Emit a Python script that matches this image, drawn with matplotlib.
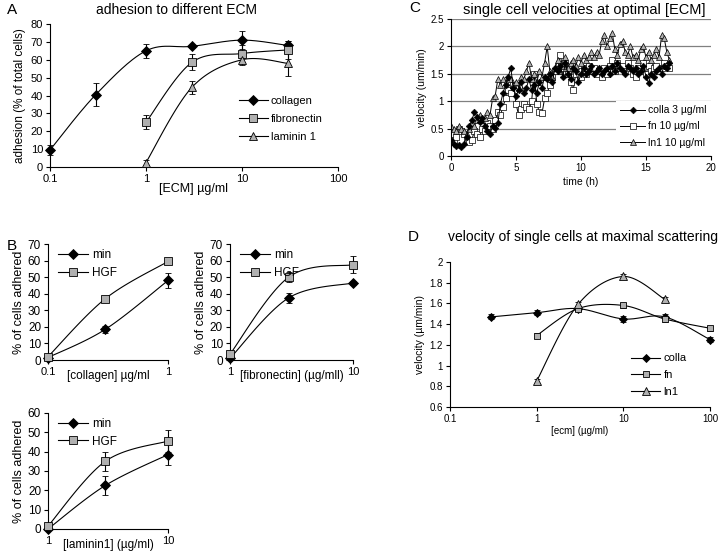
import numpy as np
import matplotlib
matplotlib.use("Agg")
import matplotlib.pyplot as plt
from matplotlib.ticker import FixedLocator, FixedFormatter, NullLocator, FormatStrFormatter

plt.rcParams['font.family'] = ['Liberation Sans', 'DejaVu Sans']
plt.rcParams['font.size'] = 7.5

GRAY = '#b0b0b0'

# ---- panel A: adhesion to different ECM ----
a_coll_x = [0.1, 0.3, 1, 3, 10, 30]
a_coll_y = [9.5, 40.5, 65, 67.5, 71, 68]
a_coll_e = [3, 6.5, 4, 1, 5, 2.5]
a_fn_x = [1, 3, 10, 30]
a_fn_y = [25, 58.5, 63.5, 65.5]
a_fn_e = [4, 4.5, 4.5, 5]
a_ln_x = [1, 3, 10, 30]
a_ln_y = [2.5, 44.5, 60, 58]
a_ln_e = [1.5, 3.5, 3, 7]

# ---- panel B: min vs HGF on each ECM ----
b_coll_x = [0.1, 0.3, 1]
b_coll_min = [1.5, 18.5, 48]
b_coll_min_e = [1, 2, 4.5]
b_coll_hgf = [2, 37, 59.5]
b_coll_hgf_e = [1, 1.5, 1.5]

b_fn_x = [1, 3, 10]
b_fn_min = [1, 37.5, 46.5]
b_fn_min_e = [1, 3, 1]
b_fn_hgf = [3.5, 50, 57.5]
b_fn_hgf_e = [2, 3, 5]

b_ln_x = [1, 3, 10]
b_ln_min = [0, 22.5, 38.5]
b_ln_min_e = [0.5, 5, 5.5]
b_ln_hgf = [1.5, 35, 45.5]
b_ln_hgf_e = [1, 5, 5.5]

# ---- panel C: velocities over time (every 0.2 h) ----
c_step = 0.2
c_colla = [0.30, 0.22, 0.18, 0.20, 0.17, 0.22,
           0.35, 0.55, 0.65, 0.80, 0.72,
           0.62, 0.70, 0.55, 0.45, 0.40,
           0.55, 0.52, 0.60, 0.95, 1.15,
           1.30, 1.45, 1.60, 1.25, 1.10,
           1.20, 1.35, 1.15, 1.25, 1.40,
           1.20, 1.30, 1.15, 1.35, 1.25,
           1.45, 1.40, 1.50, 1.35, 1.60,
           1.55, 1.65, 1.45, 1.70, 1.50,
           1.40, 1.60, 1.55, 1.35, 1.50,
           1.60, 1.50, 1.55, 1.65, 1.50,
           1.55, 1.60, 1.50, 1.55, 1.60,
           1.50, 1.65, 1.55, 1.70, 1.60,
           1.55, 1.50, 1.65, 1.60, 1.55,
           1.60, 1.50, 1.55, 1.65, 1.45,
           1.33, 1.50, 1.45, 1.55, 1.60,
           1.50, 1.65, 1.60, 1.70]
c_fn = [0.30, 0.25, 0.35, 0.50, 0.45, 0.40,
        0.30, 0.25, 0.30, 0.45, 0.40,
        0.35, 0.50, 0.45, 0.60, 0.55,
        0.50, 0.65, 0.80, 0.75, 0.90,
        1.05, 1.20, 1.15, 1.30, 0.95,
        0.75, 0.85, 0.95, 0.90, 0.85,
        1.00, 1.50, 0.95, 0.80, 0.78,
        1.05, 1.15, 1.30, 1.45, 1.55,
        1.65, 1.85, 1.60, 1.70, 1.50,
        1.35, 1.20, 1.50, 1.55, 1.45,
        1.60, 1.50, 1.65, 1.55, 1.60,
        1.50, 1.55, 1.45, 1.60, 1.50,
        1.65, 1.75, 1.55, 1.70, 1.60,
        1.65, 1.55, 1.70, 1.60, 1.50,
        1.45, 1.60, 1.55, 1.70, 1.50,
        1.65, 1.55, 1.60, 1.65, 1.55,
        1.60, 1.70, 1.65, 1.60]
c_ln1 = [0.55, 0.50, 0.45, 0.55, 0.50, 0.45,
         0.40, 0.50, 0.60, 0.55, 0.65,
         0.75, 0.65, 0.70, 0.80, 0.75,
         1.05, 1.10, 1.40, 1.30, 1.40,
         1.35, 1.45, 1.40, 1.30, 1.35,
         1.25, 1.45, 1.40, 1.55, 1.70,
         1.40, 1.50, 1.35, 1.55, 1.45,
         1.70, 2.00, 1.55, 1.45, 1.60,
         1.75, 1.55, 1.65, 1.80, 1.60,
         1.70, 1.75, 1.65, 1.80, 1.70,
         1.85, 1.75, 1.80, 1.90, 1.80,
         1.90, 1.85, 2.10, 2.20, 2.00,
         2.15, 2.25, 1.95, 1.85, 2.05,
         2.10, 1.90, 1.85, 2.00, 1.80,
         1.85, 1.75, 1.95, 2.00, 1.80,
         1.90, 1.75, 1.85, 1.95, 1.80,
         2.20, 2.15, 1.90, 1.75]

# ---- panel D: velocity at maximal scattering ----
d_colla_x = [0.3, 1, 3, 10, 30, 100]
d_colla_y = [1.47, 1.51, 1.55, 1.45, 1.47, 1.25]
d_fn_x = [1, 3, 10, 30, 100]
d_fn_y = [1.29, 1.55, 1.58, 1.45, 1.36]
d_ln_x = [1, 3, 10, 30]
d_ln_y = [0.85, 1.59, 1.86, 1.64]
d_err = 0.025


def smooth(x, y, n=30):
    # Excel-like smoothed line (Catmull-Rom as cubic Bezier), x in log space
    lx = np.log10(np.asarray(x, float))
    y = np.asarray(y, float)
    px = np.concatenate([[lx[0]], lx, [lx[-1]]])
    py = np.concatenate([[y[0]], y, [y[-1]]])
    t = np.linspace(0, 1, n)[:, None]
    xs, ys = [], []
    for i in range(1, len(px) - 2):
        p0 = np.array([px[i - 1], py[i - 1]])
        p1 = np.array([px[i], py[i]])
        p2 = np.array([px[i + 1], py[i + 1]])
        p3 = np.array([px[i + 2], py[i + 2]])
        c1 = p1 + (p2 - p0) / 6
        c2 = p2 - (p3 - p1) / 6
        b = ((1 - t) ** 3) * p1 + 3 * ((1 - t) ** 2) * t * c1 + 3 * (1 - t) * t ** 2 * c2 + t ** 3 * p2
        xs.append(b[:, 0])
        ys.append(b[:, 1])
    return 10 ** np.concatenate(xs), np.concatenate(ys)


def excel_axes(ax):
    ax.spines['top'].set_visible(False)
    ax.spines['right'].set_visible(False)
    ax.tick_params(direction='out', length=3, width=0.8, pad=2)
    ax.xaxis.set_minor_locator(NullLocator())


def series(ax, x, y, e, marker, mfc, ms, label=None):
    xs, ys = smooth(x, y)
    ax.plot(xs, ys, color='k', lw=0.8, zorder=2, clip_on=False)
    eb = ax.errorbar(x, y, yerr=e, fmt=marker, color='k', mfc=mfc, mec='k', ms=ms,
                     mew=0.6, elinewidth=0.8, capsize=2.5, capthick=0.8, zorder=3)
    for art in eb.get_children():
        art.set_clip_on(False)
    if label:
        ax.plot([], [], '-', color='k', lw=0.8, marker=marker, mfc=mfc, mec='k',
                ms=ms, mew=0.6, label=label)


def log_ticks(ax, vals, labels):
    ax.set_xscale('log')
    ax.set_xlim(vals[0], vals[-1])
    ax.xaxis.set_major_locator(FixedLocator(vals))
    ax.xaxis.set_major_formatter(FixedFormatter(labels))
    ax.xaxis.set_minor_locator(NullLocator())


fig = plt.figure(figsize=(7.2, 5.56), dpi=100)

# A
axA = fig.add_axes([0.0694, 0.6996, 0.4, 0.2572])
excel_axes(axA)
series(axA, a_coll_x, a_coll_y, a_coll_e, 'D', 'k', 5.5, 'collagen')
series(axA, a_fn_x, a_fn_y, a_fn_e, 's', GRAY, 5.5, 'fibronectin')
series(axA, a_ln_x, a_ln_y, a_ln_e, '^', GRAY, 6, 'laminin 1')
log_ticks(axA, [0.1, 1, 10, 100], ['0.1', '1', '10', '100'])
axA.set_ylim(0, 80)
axA.set_yticks(range(0, 81, 10))
axA.tick_params(labelsize=8)
axA.set_ylabel('adhesion (% of total cells)', fontsize=8.5, labelpad=3)
axA.set_xlabel('[ECM] µg/ml', fontsize=9, labelpad=-1)
axA.legend(loc='upper left', bbox_to_anchor=(0.64, 0.53), frameon=False, fontsize=8,
           handlelength=2.6, handletextpad=0.3, labelspacing=0.75, borderaxespad=0)
fig.text(0.245, 0.982, 'adhesion to different ECM', fontsize=10, ha='center', va='center')
fig.text(0.01, 0.982, 'A', fontsize=11, va='center')

# B panels
def b_panel(rect, x, mn, mne, hg, hge, xl, ticks, labels, ymax):
    ax = fig.add_axes(rect)
    excel_axes(ax)
    series(ax, x, mn, mne, 'D', 'k', 5, 'min')
    series(ax, x, hg, hge, 's', GRAY, 5.5, 'HGF')
    log_ticks(ax, ticks, labels)
    ax.set_ylim(0, ymax)
    ax.set_yticks(range(0, ymax + 1, 10))
    ax.tick_params(labelsize=8.5)
    ax.tick_params(axis='x', labelsize=8)
    ax.set_ylabel('% of cells adhered', fontsize=9, labelpad=2)
    ax.set_xlabel(xl, fontsize=8.5)
    ax.xaxis.set_label_coords(0.5, -0.09)
    ax.legend(loc='upper left', bbox_to_anchor=(0.04, 1.0), frameon=False, fontsize=8.5,
              handlelength=2.6, handletextpad=0.3, labelspacing=0.5, borderaxespad=0)
    return ax

b_panel([0.0667, 0.3525, 0.1667, 0.2086], b_coll_x, b_coll_min, b_coll_min_e,
        b_coll_hgf, b_coll_hgf_e, '[collagen] µg/ml', [0.1, 1], ['0.1', '1'], 70)
b_panel([0.3194, 0.3525, 0.1708, 0.2086], b_fn_x, b_fn_min, b_fn_min_e,
        b_fn_hgf, b_fn_hgf_e, '[fibronectin] (µg/mll)', [1, 10], ['1', '10'], 70)
b_panel([0.0667, 0.0486, 0.1667, 0.2086], b_ln_x, b_ln_min, b_ln_min_e,
        b_ln_hgf, b_ln_hgf_e, '[laminin1] (µg/ml)', [1, 10], ['1', '10'], 60)
fig.text(0.01, 0.558, 'B', fontsize=11, va='center')

# C
axC = fig.add_axes([0.6264, 0.7194, 0.3611, 0.2464])
excel_axes(axC)
t = np.arange(len(c_colla)) * c_step
axC.plot(t, c_colla, '-', color='k', lw=0.7, marker='D', ms=3.4, mfc='k', mec='k',
         mew=0.4, label='colla 3 µg/ml', zorder=3)
axC.plot(t, c_fn, '-', color='k', lw=0.7, marker='s', ms=4.0, mfc='white', mec='k',
         mew=0.5, label='fn 10 µg/ml', zorder=2)
axC.plot(t, c_ln1, '-', color='k', lw=0.7, marker='^', ms=4.5, mfc=GRAY, mec='k',
         mew=0.5, label='ln1 10 µg/ml', zorder=2.5)
axC.set_xlim(0, 20)
axC.set_ylim(0, 2.5)
axC.set_xticks([0, 5, 10, 15, 20])
axC.set_yticks([0, 0.5, 1, 1.5, 2, 2.5])
axC.yaxis.set_major_formatter(FormatStrFormatter('%g'))
axC.yaxis.grid(True, color='#808080', lw=0.9)
axC.set_axisbelow(True)
axC.tick_params(labelsize=7)
axC.set_xlabel('time (h)', fontsize=7.5, labelpad=3)
axC.set_ylabel('velocity (um/min)', fontsize=7.5, labelpad=3)
leg = axC.legend(loc='lower right', bbox_to_anchor=(1.0, 0.03), fontsize=7.5, frameon=True,
                 handlelength=2.4, handletextpad=0.3, labelspacing=0.6, borderaxespad=0,
                 fancybox=False, framealpha=1)
leg.get_frame().set_edgecolor('white')
leg.get_frame().set_linewidth(0)
fig.text(0.812, 0.982, 'single cell velocities at optimal [ECM]', fontsize=10.5, ha='center', va='center')
fig.text(0.568, 0.985, 'C', fontsize=11, va='center')

# D
axD = fig.add_axes([0.625, 0.268, 0.3611, 0.2608])
excel_axes(axD)
series(axD, d_colla_x, d_colla_y, [d_err] * len(d_colla_x), 'D', 'k', 4.5, 'colla')
series(axD, d_fn_x, d_fn_y, [d_err] * len(d_fn_x), 's', GRAY, 5, 'fn')
series(axD, d_ln_x, d_ln_y, [d_err] * len(d_ln_x), '^', GRAY, 5.5, 'ln1')
log_ticks(axD, [0.1, 1, 10, 100], ['0.1', '1', '10', '100'])
axD.set_ylim(0.6, 2)
axD.set_yticks([0.6, 0.8, 1, 1.2, 1.4, 1.6, 1.8, 2])
axD.yaxis.set_major_formatter(FormatStrFormatter('%g'))
axD.tick_params(labelsize=7)
axD.set_xlabel('[ecm] (µg/ml)', fontsize=7, labelpad=1.5)
axD.set_ylabel('velocity (µm/min)', fontsize=7.5, labelpad=3)
axD.legend(loc='upper left', bbox_to_anchor=(0.68, 0.40), frameon=False, fontsize=8,
           handlelength=2.6, handletextpad=0.3, labelspacing=0.6, borderaxespad=0)
fig.text(0.81, 0.574, 'velocity of single cells at maximal scattering', fontsize=10, ha='center', va='center')
fig.text(0.567, 0.574, 'D', fontsize=11, va='center')

fig.savefig('out.png', dpi=100)
